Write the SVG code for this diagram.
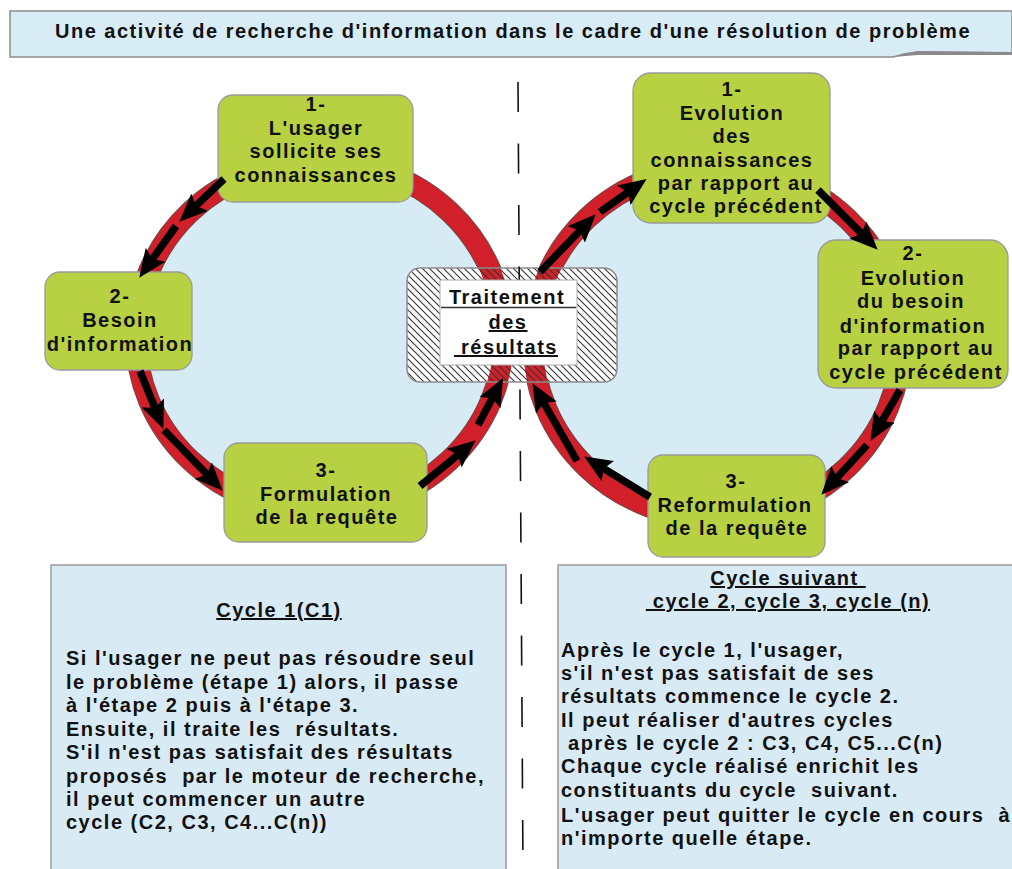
<svg xmlns="http://www.w3.org/2000/svg" width="1012" height="869" viewBox="0 0 1012 869">
<defs>
<style>
text{font-family:"Liberation Sans",Arial,sans-serif;font-weight:bold;font-size:20px;letter-spacing:1.5px;fill:#111;white-space:pre}
.c{text-anchor:middle}
.u{text-decoration:underline}
.node{fill:#b7d143;stroke:#9a9a9a;stroke-width:1.3}
.ringEdge{fill:none;stroke:#6e4848;stroke-width:22}
.ring{fill:none;stroke:#d2202a;stroke-width:20}
.panel{fill:#d8ebf5;stroke:#9a9a9a;stroke-width:1.5}
.arrow{stroke:#000;stroke-width:7.5;fill:none;marker-end:url(#head)}
</style>
<marker id="head" markerUnits="userSpaceOnUse" viewBox="0 0 28 24" refX="11" refY="12" markerWidth="28" markerHeight="24" orient="auto">
<path d="M0,0 L28,12 L0,24 L5,12 Z" fill="#000"/>
</marker>
<pattern id="hatch" patternUnits="userSpaceOnUse" width="7" height="7">
<path d="M-1,-1 L8,8 M-8,-1 L1,8 M6,-1 L15,8" stroke="#333" stroke-width="1.1"/>
</pattern>
<clipPath id="boxclip"><rect x="407" y="268" width="210" height="114" rx="13"/></clipPath>
</defs>
<rect width="1012" height="869" fill="#fff"/>

<g id="banner">
<path d="M10,11 L1012,11 L1012,53 L918,52 Q905,53 893,57 L10,57 Z" fill="#d8ecf6" stroke="#8c8c8c" stroke-width="1.5"/>
<path d="M893,57 Q905,53 918,51 L1012,52 L1012,55 L918,55 Z" fill="#8a8a8a"/>
<text class="c" x="513" y="38">Une activité de recherche d'information dans le cadre d'une résolution de problème</text>
</g>

<g id="cycle1-ring">
<ellipse cx="320" cy="336" rx="184" ry="175" fill="#d7ebf5"/>
<ellipse class="ringEdge" cx="320" cy="336" rx="184" ry="175"/>
<ellipse class="ring" cx="320" cy="336" rx="184" ry="175"/>
</g>
<g id="cycle2-ring">
<ellipse cx="717" cy="343" rx="184" ry="176" fill="#d7ebf5"/>
<ellipse class="ringEdge" cx="717" cy="343" rx="184" ry="176"/>
<ellipse class="ring" cx="717" cy="343" rx="184" ry="176"/>
</g>

<g id="processing">
<rect x="407" y="268" width="210" height="114" rx="13" fill="#fff"/>
<g clip-path="url(#boxclip)">
<ellipse class="ring" cx="320" cy="336" rx="184" ry="175"/>
<ellipse class="ring" cx="717" cy="343" rx="184" ry="176"/>
</g>
<rect x="407" y="268" width="210" height="114" rx="13" fill="url(#hatch)" stroke="#8c8c8c" stroke-width="1.5"/>
</g>

<g id="divider">
<line x1="518" y1="82" x2="523" y2="869" stroke="#111" stroke-width="1.6" stroke-dasharray="30 31.5"/>
</g>

<g id="processing-label">
<rect x="440" y="280" width="137" height="85" fill="#fff" stroke="#aaa" stroke-width="1"/>
<line x1="441" y1="307.5" x2="576" y2="307.5" stroke="#333" stroke-width="1.6"/>
<text class="c" x="507" y="304">Traitement</text>
<text class="c u" x="508" y="329">des</text>
<text class="c u" x="506" y="354"> résultats</text>
</g>

<g id="c1-step1">
<rect class="node" x="218" y="95" width="195" height="107" rx="15"/>
<text class="c" x="316" y="111">1-</text>
<text class="c" x="316" y="134.5">L'usager</text>
<text class="c" x="316" y="158">sollicite ses</text>
<text class="c" x="316" y="181.5">connaissances</text>
</g>
<g id="c1-step2">
<rect class="node" x="45" y="272" width="147" height="98" rx="15"/>
<text class="c" x="120" y="303">2-</text>
<text class="c" x="120" y="327">Besoin</text>
<text class="c" x="120" y="351">d'information</text>
</g>
<g id="c1-step3">
<rect class="node" x="224" y="443" width="203" height="99" rx="15"/>
<text class="c" x="326" y="477">3-</text>
<text class="c" x="326" y="501">Formulation</text>
<text class="c" x="327" y="524">de la requête</text>
</g>

<g id="cn-step1">
<rect class="node" x="633" y="73" width="197" height="150" rx="18"/>
<text class="c" x="732" y="96">1-</text>
<text class="c" x="732" y="120">Evolution</text>
<text class="c" x="732" y="143">des</text>
<text class="c" x="732" y="167">connaissances</text>
<text class="c" x="736" y="190">par rapport au</text>
<text class="c" x="736" y="213">cycle précédent</text>
</g>
<g id="cn-step2">
<rect class="node" x="818" y="240" width="190" height="148" rx="18"/>
<text class="c" x="913" y="260">2-</text>
<text class="c" x="913" y="285">Evolution</text>
<text class="c" x="911" y="308">du besoin</text>
<text class="c" x="913" y="333">d'information</text>
<text class="c" x="916" y="355">par rapport au</text>
<text class="c" x="916" y="379">cycle précédent</text>
</g>
<g id="cn-step3">
<rect class="node" x="648" y="455" width="177" height="102" rx="15"/>
<text class="c" x="736" y="488">3-</text>
<text class="c" x="735" y="512">Reformulation</text>
<text class="c" x="737" y="535">de la requête</text>
</g>

<g id="connectors">
<line class="arrow" x1="224" y1="179" x2="191.6" y2="209.9"/>
<line class="arrow" x1="176" y1="226" x2="149.1" y2="263.8"/>
<line class="arrow" x1="140" y1="371" x2="157" y2="413.2"/>
<line class="arrow" x1="164" y1="430" x2="210.9" y2="478.5"/>
<line class="arrow" x1="420" y1="486" x2="462.6" y2="451.1"/>
<line class="arrow" x1="478" y1="425" x2="495.1" y2="392.9"/>
<line class="arrow" x1="540" y1="272" x2="583.9" y2="226.5"/>
<line class="arrow" x1="600" y1="212" x2="632.7" y2="188.9"/>
<line class="arrow" x1="818" y1="190" x2="865.7" y2="237.7"/>
<line class="arrow" x1="900" y1="390" x2="879" y2="426.2"/>
<line class="arrow" x1="867" y1="445" x2="832.8" y2="482.2"/>
<line class="arrow" x1="650" y1="497" x2="598.6" y2="465.4"/>
<line class="arrow" x1="577" y1="461" x2="540.9" y2="397.9"/>
</g>

<g id="box-cycle1">
<rect class="panel" x="51" y="565" width="455" height="320"/>
<text class="c u" x="279" y="617">Cycle 1(C1)</text>
<text x="66" y="665">Si l'usager ne peut pas résoudre seul</text>
<text x="66" y="689">le problème (étape 1) alors, il passe</text>
<text x="66" y="712">à l'étape 2 puis à l'étape 3.</text>
<text x="66" y="736">Ensuite, il traite les  résultats.</text>
<text x="66" y="759">S'il n'est pas satisfait des résultats</text>
<text x="66" y="783">proposés  par le moteur de recherche,</text>
<text x="66" y="806">il peut commencer un autre</text>
<text x="66" y="829">cycle (C2, C3, C4...C(n))</text>
</g>

<g id="box-next">
<rect class="panel" x="558" y="565" width="470" height="320"/>
<text class="c u" x="788" y="585">Cycle suivant </text>
<text class="c u" x="788" y="608"> cycle 2, cycle 3, cycle (n)</text>
<text x="561" y="657">Après le cycle 1, l'usager,</text>
<text x="561" y="680">s'il n'est pas satisfait de ses</text>
<text x="561" y="703">résultats commence le cycle 2.</text>
<text x="561" y="727">Il peut réaliser d'autres cycles</text>
<text x="561" y="750"> après le cycle 2 : C3, C4, C5...C(n)</text>
<text x="561" y="773">Chaque cycle réalisé enrichit les</text>
<text x="561" y="797">constituants du cycle  suivant.</text>
<text x="561" y="822">L'usager peut quitter le cycle en cours  à</text>
<text x="561" y="845">n'importe quelle étape.</text>
</g>
</svg>
